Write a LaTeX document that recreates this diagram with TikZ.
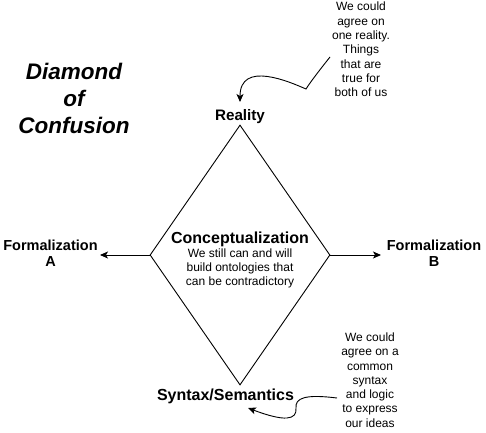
\documentclass[tikz,border=0pt]{standalone}
\usepackage{fontspec}
\setmainfont{Liberation Sans}
\usetikzlibrary{shapes.geometric,arrows.meta}
\tikzset{
  ln/.style={line width=0.9pt, draw=black},
  arr/.style={ln, -{Stealth[length=8pt,width=7pt,inset=2pt]}},
  lbl/.style={font=\bfseries\fontsize{14.5}{16.2}\selectfont, inner sep=0pt, align=center},
  note/.style={font=\fontsize{12}{14.3}\selectfont, inner sep=0pt, align=center},
  titlestyle/.style={font=\bfseries\itshape\fontsize{22.5}{27}\selectfont, inner sep=0pt, align=center},
  dia/.style={ln, shape=diamond, minimum width=180pt, minimum height=260pt, inner sep=0pt}
}
\begin{document}
\begin{tikzpicture}[x=1pt,y=-1pt]
\useasboundingbox (0,0) rectangle (486,432);
\node[dia] (diam) at (240,255) {};
\node[titlestyle] (title) at (74,98.2) {Diamond\\of\\Confusion};
\node[lbl, anchor=base, font=\bfseries\fontsize{15.2}{17}\selectfont] (real) at (240,120.7) {Reality};
\node[lbl, anchor=base, font=\bfseries\fontsize{16}{18}\selectfont] (syn) at (225.5,400) {Syntax/Semantics};
\node[lbl] (fa) at (50.5,253.3) {Formalization\\A};
\node[lbl] (fb) at (434,253.3) {Formalization\\B};
\node[lbl, anchor=base, font=\bfseries\fontsize{16}{18}\selectfont] (concept) at (240,243.3) {Conceptualization};
\node[note] (cdesc) at (240,268.4) {We still can and will\\build ontologies that\\can be contradictory};
\node[note] (ntop) at (361,49.5) {We could\\agree on\\one reality.\\Things\\that are\\true for\\both of us};
\node[note] (nbot) at (370,380) {We could\\agree on a\\common\\syntax\\and logic\\to express\\our ideas};
\coordinate (aL) at (100,255);
\coordinate (aR) at (381,255);
\coordinate (t1) at (330,57);
\coordinate (t2) at (240,102);
\coordinate (b1) at (337,398);
\coordinate (b2) at (248,408);
\draw[arr] (diam.west) -- (aL);
\draw[arr] (diam.east) -- (aR);
\draw[arr] (t1) .. controls (318,72) and (309,84) .. (306,89) .. controls (290,82) and (240,60) .. (t2);
\draw[arr] (b1) .. controls (305,394) and (295,398) .. (296,408) .. controls (297,420) and (285,422) .. (b2);
\end{tikzpicture}
\end{document}
